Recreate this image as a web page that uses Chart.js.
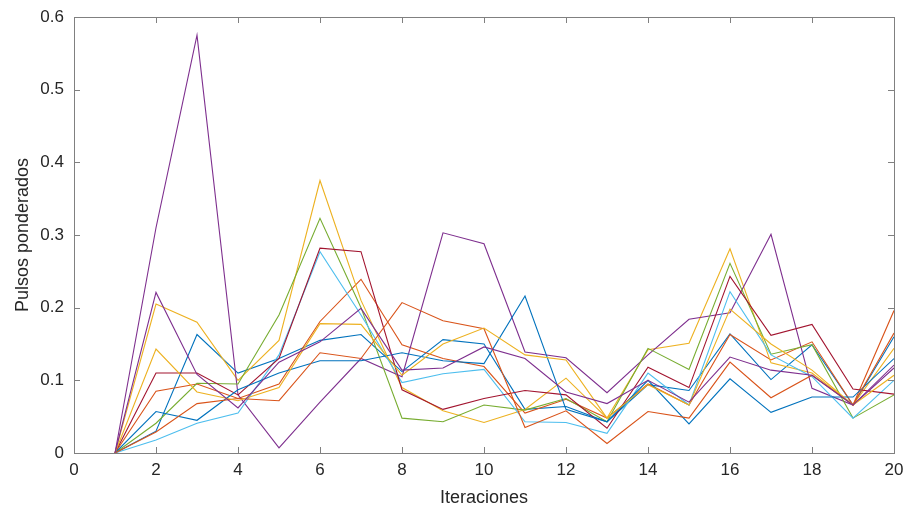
<!DOCTYPE html>
<html>
<head>
<meta charset="utf-8">
<script src="https://cdn.jsdelivr.net/npm/chart.js@4.4.0/dist/chart.umd.min.js"></script>
<style>
  body { margin: 0; background: #fff; }
  #wrap { width: 909px; height: 516px; }
</style>
</head>
<body>
<div id="wrap"><canvas id="grafico" width="909" height="516"></canvas></div>
<script>
// datos
const iteraciones = [1, 2, 3, 4, 5, 6, 7, 8, 9, 10, 11, 12, 13, 14, 15, 16, 17, 18, 19, 20];

const serieAzul1    = [0, 0.030, 0.163, 0.110, 0.130, 0.155, 0.163, 0.112, 0.156, 0.150, 0.060, 0.064, 0.043, 0.094, 0.086, 0.164, 0.101, 0.149, 0.066, 0.160];
const serieNaranja1 = [0, 0.085, 0.095, 0.075, 0.095, 0.181, 0.239, 0.149, 0.130, 0.119, 0.055, 0.074, 0.048, 0.095, 0.066, 0.163, 0.128, 0.153, 0.066, 0.196];
const serieAmarillo1= [0, 0.205, 0.180, 0.100, 0.155, 0.375, 0.210, 0.090, 0.058, 0.042, 0.060, 0.103, 0.048, 0.142, 0.151, 0.281, 0.124, 0.110, 0.066, 0.144];
const serieMorado1  = [0, 0.310, 0.575, 0.080, 0.007, 0.070, 0.130, 0.105, 0.303, 0.288, 0.139, 0.131, 0.083, 0.135, 0.184, 0.193, 0.301, 0.089, 0.066, 0.117];
const serieVerde    = [0, 0.041, 0.096, 0.095, 0.190, 0.323, 0.200, 0.048, 0.043, 0.066, 0.059, 0.075, 0.043, 0.144, 0.115, 0.261, 0.136, 0.149, 0.048, 0.080];
const serieCeleste  = [0, 0.018, 0.041, 0.055, 0.135, 0.277, 0.190, 0.097, 0.109, 0.115, 0.043, 0.042, 0.027, 0.110, 0.066, 0.222, 0.135, 0.105, 0.048, 0.100];
const serieGranate  = [0, 0.110, 0.110, 0.080, 0.130, 0.282, 0.277, 0.087, 0.060, 0.075, 0.086, 0.080, 0.034, 0.118, 0.090, 0.243, 0.162, 0.177, 0.088, 0.081];
const serieAzul2    = [0, 0.057, 0.045, 0.087, 0.110, 0.127, 0.127, 0.138, 0.127, 0.123, 0.216, 0.060, 0.043, 0.100, 0.040, 0.102, 0.056, 0.077, 0.077, 0.130];
const serieNaranja2 = [0, 0.029, 0.068, 0.075, 0.072, 0.138, 0.130, 0.207, 0.182, 0.171, 0.035, 0.058, 0.013, 0.057, 0.048, 0.125, 0.076, 0.107, 0.066, 0.165];
const serieAmarillo2= [0, 0.143, 0.084, 0.072, 0.090, 0.178, 0.177, 0.107, 0.150, 0.172, 0.135, 0.128, 0.048, 0.094, 0.066, 0.198, 0.150, 0.114, 0.066, 0.107];
const serieMorado2  = [0, 0.221, 0.108, 0.062, 0.125, 0.153, 0.199, 0.114, 0.117, 0.146, 0.130, 0.084, 0.068, 0.100, 0.070, 0.132, 0.114, 0.107, 0.066, 0.121];

const ticksX = [0, 2, 4, 6, 8, 10, 12, 14, 16, 18, 20];
const ticksY = [0, 0.1, 0.2, 0.3, 0.4, 0.5, 0.6];

const series = [serieAzul1, serieNaranja1, serieAmarillo1, serieMorado1, serieVerde, serieCeleste,
                serieGranate, serieAzul2, serieNaranja2, serieAmarillo2, serieMorado2];
const colores = ['#0072BD', '#D95319', '#EDB120', '#7E2F8E', '#77AC30', '#4DBEEE', '#A2142F'];

const fuente = "'Liberation Sans', Arial, sans-serif";
const colorTexto = '#262626';
const colorEje = '#808080';

// caja y marcas hacia dentro, estilo matlab
const cajaEjes = {
    id: 'cajaEjes',
    afterDraw(chart) {
        const { ctx, chartArea: a, scales } = chart;
        ctx.save();
        ctx.strokeStyle = colorEje;
        ctx.lineWidth = 1;
        ctx.strokeRect(a.left + 0.5, a.top + 0.5, a.right - a.left, a.bottom - a.top);
        const largo = 6;
        ctx.beginPath();
        scales.x.ticks.forEach(t => {
            const px = Math.round(scales.x.getPixelForValue(t.value)) + 0.5;
            ctx.moveTo(px, a.bottom); ctx.lineTo(px, a.bottom - largo);
            ctx.moveTo(px, a.top); ctx.lineTo(px, a.top + largo);
        });
        scales.y.ticks.forEach(t => {
            const py = Math.round(scales.y.getPixelForValue(t.value)) + 0.5;
            ctx.moveTo(a.left, py); ctx.lineTo(a.left + largo, py);
            ctx.moveTo(a.right, py); ctx.lineTo(a.right - largo, py);
        });
        ctx.stroke();
        ctx.restore();
    }
};

const ctx = document.getElementById('grafico').getContext('2d');
new Chart(ctx, {
    type: 'line',
    data: {
        datasets: series.map((s, i) => ({
            label: 'Serie ' + (i + 1),
            data: s.map((v, k) => ({ x: iteraciones[k], y: v })),
            borderColor: colores[i % colores.length],
            borderWidth: 1.1,
            pointRadius: 0,
            tension: 0,
            fill: false,
            order: series.length - i
        }))
    },
    options: {
        responsive: false,
        animation: false,
        devicePixelRatio: 1,
        layout: { padding: { top: 17, right: 15, left: 0, bottom: 0 } },
        plugins: { legend: { display: false }, tooltip: { enabled: false } },
        scales: {
            x: {
                type: 'linear',
                min: 0, max: 20,
                afterBuildTicks: s => { s.ticks = ticksX.map(v => ({ value: v })); },
                afterFit: s => { s.height = 516 - 453; s.paddingLeft = 0; s.paddingRight = 0; },
                grid: { display: false, drawTicks: false },
                border: { display: false },
                ticks: { color: colorTexto, font: { family: fuente, size: 17 }, padding: 7, maxRotation: 0 },
                title: { display: true, text: 'Iteraciones', color: colorTexto,
                         font: { family: fuente, size: 18 }, padding: { top: 7, bottom: 7 } }
            },
            y: {
                min: 0, max: 0.6,
                afterBuildTicks: s => { s.ticks = ticksY.map(v => ({ value: v })); },
                afterFit: s => { s.width = 74; s.paddingTop = 0; s.paddingBottom = 0; },
                grid: { display: false, drawTicks: false },
                border: { display: false },
                ticks: { color: colorTexto, font: { family: fuente, size: 17 }, padding: 10,
                         callback: v => String(Math.round(v * 10) / 10) },
                title: { display: true, text: 'Pulsos ponderados', color: colorTexto,
                         font: { family: fuente, size: 18 }, padding: { top: 12, bottom: 12 } }
            }
        }
    },
    plugins: [cajaEjes]
});
</script>
</body>
</html>
